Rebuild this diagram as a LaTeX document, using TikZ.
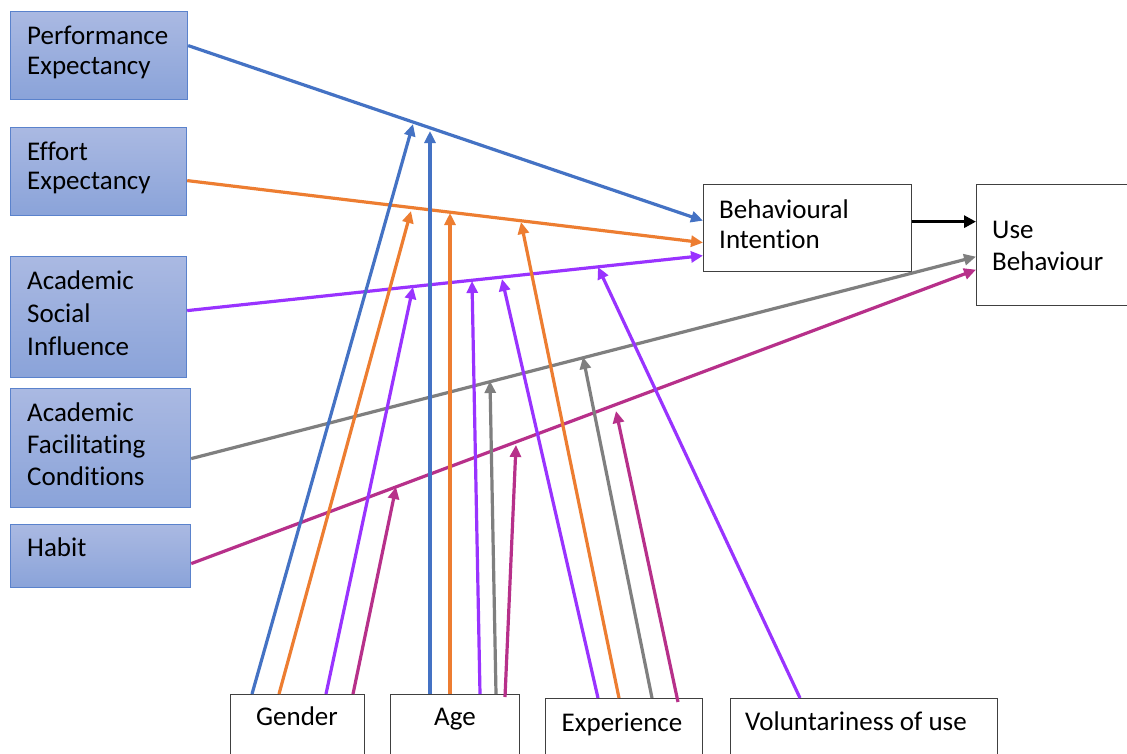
\documentclass[tikz,border=0pt]{standalone}
\usepackage{fontspec}
\setmainfont{Carlito}[Ligatures={NoCommon}]
\usetikzlibrary{arrows.meta,calc}
\definecolor{cblue}{HTML}{4472C4}
\definecolor{corange}{HTML}{ED7D31}
\definecolor{cpurple}{HTML}{9933FF}
\definecolor{cgray}{HTML}{7F7F7F}
\definecolor{cmagenta}{HTML}{B7308A}
\definecolor{boxtop}{HTML}{AAB9E2}
\definecolor{boxbot}{HTML}{8AA3D9}
\definecolor{boxedge}{HTML}{5A82CC}
\definecolor{plainedge}{HTML}{404040}
\begin{document}
\begin{tikzpicture}[x=1pt,y=-1pt,
  factor/.style={draw=boxedge, line width=1.2pt, top color=boxtop, bottom color=boxbot,
    anchor=north west, inner sep=0pt},
  plain/.style={draw=plainedge, line width=1.3pt, fill=white, anchor=north west, inner sep=0pt},
  lbl/.style={anchor=base west, inner sep=0pt, font=\fontsize{27}{32}\selectfont},
  clbl/.style={anchor=base, inner sep=0pt, font=\fontsize{27}{32}\selectfont},
  link/.style={line width=3.2pt, -{Triangle[length=12pt,width=11pt]}},
]
\useasboundingbox[fill=white] (0,0) rectangle (1127,753);

% determinant boxes
\node[factor, minimum width=177pt, minimum height=88pt]  (pe)  at (10,11)  {};
\node[factor, minimum width=176pt, minimum height=88pt]  (ee)  at (10,127) {};
\node[factor, minimum width=176pt, minimum height=121pt] (asi) at (10,256) {};
\node[factor, minimum width=180pt, minimum height=119pt] (afc) at (10,388) {};
\node[factor, minimum width=180pt, minimum height=63pt]  (hab) at (10,524) {};

\node[lbl] (pe1)  at (27,44)  {Performance};
\node[lbl] (pe2)  at (27,74)  {Expectancy};
\node[lbl] (ee1)  at (27,160) {Effort};
\node[lbl] (ee2)  at (27,189) {Expectancy};
\node[lbl] (asi1) at (27,289) {Academic};
\node[lbl] (asi2) at (27,322) {Social};
\node[lbl] (asi3) at (27,355) {Influence};
\node[lbl] (afc1) at (27,421) {Academic};
\node[lbl] (afc2) at (27,453) {Facilitating};
\node[lbl] (afc3) at (27,485) {Conditions};
\node[lbl] (hab1) at (27,556) {Habit};

% outcome boxes
\node[plain, minimum width=208pt, minimum height=87pt]  (bi) at (703,184) {};
\node[plain, minimum width=200pt, minimum height=121pt] (ub) at (976,184) {};
\node[lbl] (bi1) at (719,218) {Behavioural};
\node[lbl] (bi2) at (719,248) {Intention};
\node[lbl] (ub1) at (992,238) {Use};
\node[lbl] (ub2) at (992,270) {Behaviour};

% moderator boxes
\node[plain, minimum width=134pt, minimum height=90pt] (gen) at (230,694) {};
\node[plain, minimum width=129pt, minimum height=90pt] (age) at (390,694) {};
\node[plain, minimum width=157pt, minimum height=90pt] (exp) at (545,698) {};
\node[plain, minimum width=267pt, minimum height=90pt] (vol) at (730,698) {};
\node[clbl] (gen1) at (297,725) {Gender};
\node[clbl] (age1) at (455,725) {Age};
\node[clbl] (exp1) at (622,731) {Experience};
\node[clbl] (vol1) at (856,730) {Voluntariness of use};

% main paths
\draw[link, cblue]    ([yshift=10pt]pe.east)    -- ([yshift=7.5pt]bi.west);
\draw[link, corange]  ([yshift=-9pt]ee.east)    -- ([yshift=-14.5pt]bi.west);
\draw[link, cpurple]  ([yshift=6.5pt]asi.east)  -- ([yshift=-27.5pt]bi.west);
\draw[link, cgray]    ([yshift=-10.5pt]afc.east) -- ([yshift=-11.5pt]ub.west);
\draw[link, cmagenta] ([yshift=-7.5pt]hab.east) -- ([yshift=-24.5pt]ub.west);
\draw[line width=3.6pt, -{Triangle[length=12pt,width=12pt]}]
  ([yshift=6.5pt]bi.east) -- ([yshift=23.5pt]ub.west);

% moderating effects
\coordinate (gbT) at (413,124);
\coordinate (abT) at (430,131);
\coordinate (goT) at (411,211);
\coordinate (aoT) at (450,213);
\coordinate (eoT) at (521,222);
\coordinate (gpT) at (413,287);
\coordinate (apT) at (472,281);
\coordinate (epT) at (502,279);
\coordinate (vpT) at (598,267);
\coordinate (agT) at (490,381);
\coordinate (egT) at (583,357);
\coordinate (gmT) at (396,487);
\coordinate (amT) at (516,445);
\coordinate (emT) at (616,411);

\draw[link, cblue]    ([xshift=22pt]gen.north west)  -- (gbT);
\draw[link, corange]  ([xshift=49pt]gen.north west)  -- (goT);
\draw[link, cpurple]  ([xshift=96pt]gen.north west)  -- (gpT);
\draw[link, cmagenta] ([xshift=123pt]gen.north west) -- (gmT);

\draw[link, cblue]    ([xshift=40pt]age.north west)  -- (abT);
\draw[link, corange]  ([xshift=60pt]age.north west)  -- (aoT);
\draw[link, cpurple]  ([xshift=90pt]age.north west)  -- (apT);
\draw[link, cgray]    ([xshift=106pt]age.north west) -- (agT);
\draw[link, cmagenta] ([xshift=115pt,yshift=-3pt]age.north west) -- (amT);

\draw[link, cpurple]  ([xshift=53pt]exp.north west)  -- (epT);
\draw[link, corange]  ([xshift=74pt]exp.north west)  -- (eoT);
\draw[link, cgray]    ([xshift=107pt]exp.north west) -- (egT);
\draw[link, cmagenta] ([xshift=133pt,yshift=-4pt]exp.north west) -- (emT);

\draw[link, cpurple]  ([xshift=70pt]vol.north west)  -- (vpT);
\end{tikzpicture}
\end{document}
